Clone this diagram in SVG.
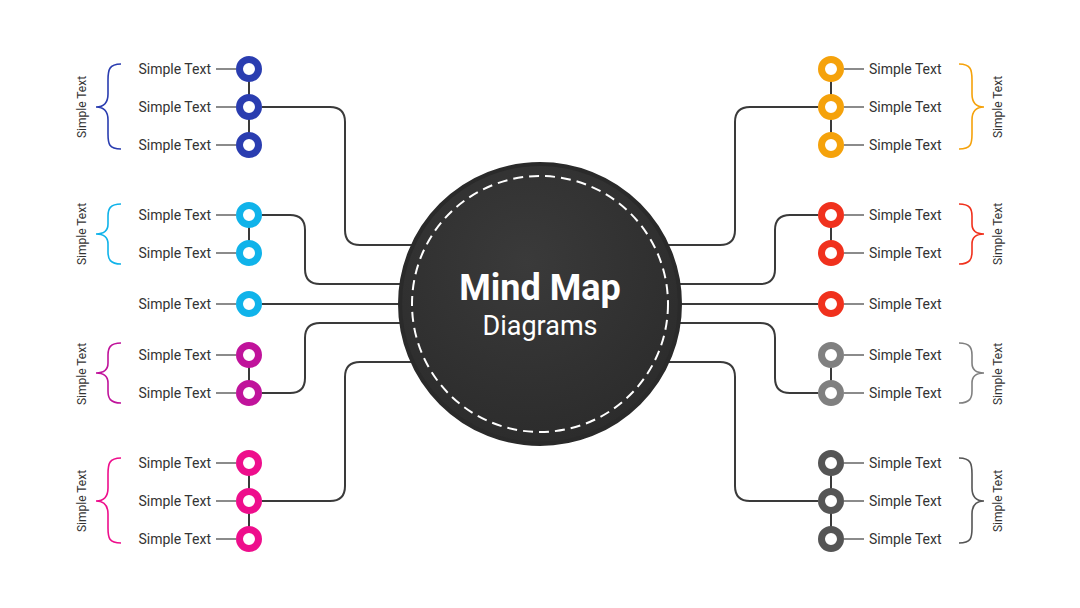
<svg xmlns="http://www.w3.org/2000/svg" width="1080" height="608" viewBox="0 0 1080 608">
<style>
.t{font-family:Roboto,"Liberation Sans",sans-serif;font-size:14px;fill:#333}
.v{font-family:Roboto,"Liberation Sans",sans-serif;font-size:12px;fill:#333;text-anchor:middle}
.c{fill:none;stroke:#3a3a3a;stroke-width:2}
.s{stroke:#666;stroke-width:1.3}
.r{fill:#fff;stroke-width:7}
.b{fill:none;stroke-width:1.6}
</style>
<defs>
<radialGradient id="g" cx="0.45" cy="0.35" r="0.7">
<stop offset="0" stop-color="#3a3a3a"/>
<stop offset="1" stop-color="#2b2b2b"/>
</radialGradient>
</defs>
<rect width="1080" height="608" fill="#fff"/>
<g id="connectors">
<path class="c" d="M262,107 H330 Q345,107 345,122 V230 Q345,245 360,245 H540"/>
<path class="c" d="M262,215 H290 Q305,215 305,230 V269 Q305,284 320,284 H540"/>
<path class="c" d="M262,304 H540"/>
<path class="c" d="M262,393 H290 Q305,393 305,378 V338 Q305,323 320,323 H540"/>
<path class="c" d="M262,501 H330 Q345,501 345,486 V377 Q345,362 360,362 H540"/>
<path class="c" d="M818,107 H750 Q735,107 735,122 V230 Q735,245 720,245 H540"/>
<path class="c" d="M818,215 H790 Q775,215 775,230 V269 Q775,284 760,284 H540"/>
<path class="c" d="M818,304 H540"/>
<path class="c" d="M818,393 H790 Q775,393 775,378 V338 Q775,323 760,323 H540"/>
<path class="c" d="M818,501 H750 Q735,501 735,486 V377 Q735,362 720,362 H540"/>
<path class="c" d="M249,69 V145 M249,215 V253 M249,355 V393 M249,463 V539 M831,69 V145 M831,215 V253 M831,355 V393 M831,463 V539"/>
<path class="s" d="M216,69 H236 M216,107 H236 M216,145 H236 M216,215 H236 M216,253 H236 M216,304 H236 M216,355 H236 M216,393 H236 M216,463 H236 M216,501 H236 M216,539 H236 M844,69 H864 M844,107 H864 M844,145 H864 M844,215 H864 M844,253 H864 M844,304 H864 M844,355 H864 M844,393 H864 M844,463 H864 M844,501 H864 M844,539 H864"/>
</g>
<g id="center">
<circle cx="540" cy="304" r="140" fill="url(#g)" stroke="#2a2a2a" stroke-width="4"/>
<circle cx="540" cy="304" r="128" fill="none" stroke="#fff" stroke-width="2" stroke-dasharray="10 6"/>
<text x="540" y="300" text-anchor="middle" font-family="Roboto,'Liberation Sans',sans-serif" font-size="36" font-weight="bold" fill="#fff">Mind Map</text>
<text x="540" y="335" text-anchor="middle" font-family="Roboto,'Liberation Sans',sans-serif" font-size="27" fill="#fff">Diagrams</text>
</g>
<g id="blue">
<path class="b" stroke="#2a3db0" d="M121,64 C109,64 108,70 108,80 V94 C108,103 104,107 96,107 C104,107 108,111 108,120 V134 C108,144 109,149 121,149"/>
<text class="v" transform="translate(86,107) rotate(-90)">Simple Text</text>
<g stroke="#2a3db0"><circle class="r" cx="249" cy="69" r="9.5"/><circle class="r" cx="249" cy="107" r="9.5"/><circle class="r" cx="249" cy="145" r="9.5"/></g>
<text class="t" x="211" y="74" text-anchor="end">Simple Text</text>
<text class="t" x="211" y="112" text-anchor="end">Simple Text</text>
<text class="t" x="211" y="150" text-anchor="end">Simple Text</text>
</g>
<g id="cyan">
<path class="b" stroke="#10b3ea" d="M121,204 C110,204 108,209 108,216 V224 C108,231 104,234 96,234 C104,234 108,237 108,244 V252 C108,259 110,264 121,264"/>
<text class="v" transform="translate(86,234) rotate(-90)">Simple Text</text>
<g stroke="#10b3ea"><circle class="r" cx="249" cy="215" r="9.5"/><circle class="r" cx="249" cy="253" r="9.5"/></g>
<text class="t" x="211" y="220" text-anchor="end">Simple Text</text>
<text class="t" x="211" y="258" text-anchor="end">Simple Text</text>
</g>
<g id="cyan-single">
<circle class="r" stroke="#10b3ea" cx="249" cy="304" r="9.5"/>
<text class="t" x="211" y="309" text-anchor="end">Simple Text</text>
</g>
<g id="magenta">
<path class="b" stroke="#c0139b" d="M121,343 C110,343 108,348 108,355 V363 C108,370 104,373 96,373 C104,373 108,376 108,383 V391 C108,398 110,403 121,403"/>
<text class="v" transform="translate(86,374) rotate(-90)">Simple Text</text>
<g stroke="#c0139b"><circle class="r" cx="249" cy="355" r="9.5"/><circle class="r" cx="249" cy="393" r="9.5"/></g>
<text class="t" x="211" y="360" text-anchor="end">Simple Text</text>
<text class="t" x="211" y="398" text-anchor="end">Simple Text</text>
</g>
<g id="pink">
<path class="b" stroke="#ee0e8c" d="M121,458 C109,458 108,464 108,474 V488 C108,497 104,501 96,501 C104,501 108,505 108,514 V528 C108,538 109,543 121,543"/>
<text class="v" transform="translate(86,501) rotate(-90)">Simple Text</text>
<g stroke="#ee0e8c"><circle class="r" cx="249" cy="463" r="9.5"/><circle class="r" cx="249" cy="501" r="9.5"/><circle class="r" cx="249" cy="539" r="9.5"/></g>
<text class="t" x="211" y="468" text-anchor="end">Simple Text</text>
<text class="t" x="211" y="506" text-anchor="end">Simple Text</text>
<text class="t" x="211" y="544" text-anchor="end">Simple Text</text>
</g>
<g id="orange">
<path class="b" stroke="#f5a20b" d="M959,64 C971,64 972,70 972,80 V94 C972,103 976,107 984,107 C976,107 972,111 972,120 V134 C972,144 971,149 959,149"/>
<text class="v" transform="translate(1002,107) rotate(-90)">Simple Text</text>
<g stroke="#f5a20b"><circle class="r" cx="831" cy="69" r="9.5"/><circle class="r" cx="831" cy="107" r="9.5"/><circle class="r" cx="831" cy="145" r="9.5"/></g>
<text class="t" x="869" y="74">Simple Text</text>
<text class="t" x="869" y="112">Simple Text</text>
<text class="t" x="869" y="150">Simple Text</text>
</g>
<g id="red">
<path class="b" stroke="#f0311d" d="M959,204 C970,204 972,209 972,216 V224 C972,231 976,234 984,234 C976,234 972,237 972,244 V252 C972,259 970,264 959,264"/>
<text class="v" transform="translate(1002,234) rotate(-90)">Simple Text</text>
<g stroke="#f0311d"><circle class="r" cx="831" cy="215" r="9.5"/><circle class="r" cx="831" cy="253" r="9.5"/></g>
<text class="t" x="869" y="220">Simple Text</text>
<text class="t" x="869" y="258">Simple Text</text>
</g>
<g id="red-single">
<circle class="r" stroke="#f0311d" cx="831" cy="304" r="9.5"/>
<text class="t" x="869" y="309">Simple Text</text>
</g>
<g id="gray">
<path class="b" stroke="#808080" d="M959,343 C970,343 972,348 972,355 V363 C972,370 976,373 984,373 C976,373 972,376 972,383 V391 C972,398 970,403 959,403"/>
<text class="v" transform="translate(1002,374) rotate(-90)">Simple Text</text>
<g stroke="#808080"><circle class="r" cx="831" cy="355" r="9.5"/><circle class="r" cx="831" cy="393" r="9.5"/></g>
<text class="t" x="869" y="360">Simple Text</text>
<text class="t" x="869" y="398">Simple Text</text>
</g>
<g id="darkgray">
<path class="b" stroke="#555" d="M959,458 C971,458 972,464 972,474 V488 C972,497 976,501 984,501 C976,501 972,505 972,514 V528 C972,538 971,543 959,543"/>
<text class="v" transform="translate(1002,501) rotate(-90)">Simple Text</text>
<g stroke="#555"><circle class="r" cx="831" cy="463" r="9.5"/><circle class="r" cx="831" cy="501" r="9.5"/><circle class="r" cx="831" cy="539" r="9.5"/></g>
<text class="t" x="869" y="468">Simple Text</text>
<text class="t" x="869" y="506">Simple Text</text>
<text class="t" x="869" y="544">Simple Text</text>
</g>
</svg>
